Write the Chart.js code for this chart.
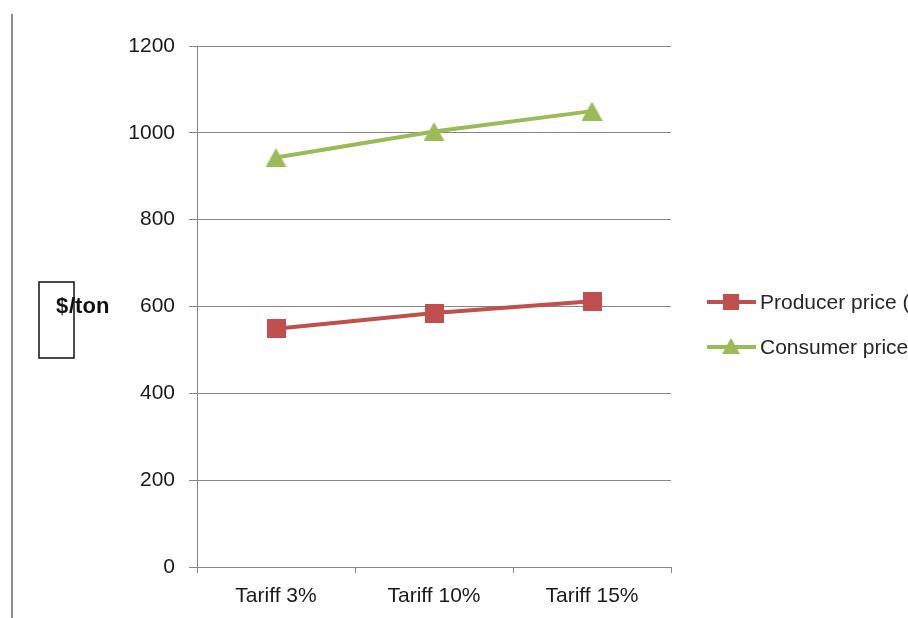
<!DOCTYPE html>
<html>
<head>
<meta charset="utf-8">
<script src="https://cdn.jsdelivr.net/npm/chart.js@4/dist/chart.umd.min.js"></script>
<style>
  html, body { margin: 0; padding: 0; background: #fff; overflow: hidden; }
  #wrap { width: 908px; height: 618px; }
</style>
</head>
<body>
<div id="wrap"><canvas id="chart" width="908" height="618"></canvas></div>
<script>
const RED = "#C0504D";
const GREEN = "#9BBB59";
const GRID = "#878787";
const FONT = "'Liberation Sans', Arial, sans-serif";

const categories = ["Tariff 3%", "Tariff 10%", "Tariff 15%"];
const producerPrice = [549, 585, 612];
const consumerPrice = [943, 1003, 1050];
const seriesNames = ["Producer price (farm gate)", "Consumer price (retail)"];
const yTicks = [0, 200, 400, 600, 800, 1000, 1200];

// Excel-like markers, centred on their bounding box
function makeMarker(kind, color, w, h) {
  const c = document.createElement("canvas");
  c.width = w;
  c.height = h;
  const g = c.getContext("2d");
  g.fillStyle = color;
  if (kind === "square") {
    g.fillRect(0, 0, w, h);
  } else {
    g.beginPath();
    g.moveTo(w / 2, 0);
    g.lineTo(w, h);
    g.lineTo(0, h);
    g.closePath();
    g.fill();
  }
  return c;
}
const squareMarker = makeMarker("square", RED, 19, 19);
const triangleMarker = makeMarker("triangle", GREEN, 21, 19);

// Axis title box, legend and page border drawn on top of the chart
const decorPlugin = {
  id: "decorPlugin",
  afterDraw: (chart) => {
    const { ctx, chartArea } = chart;
    const midY = (chartArea.top + chartArea.bottom) / 2;
    ctx.save();

    // grey frame line on the far left
    ctx.strokeStyle = "#8c8c8c";
    ctx.lineWidth = 2;
    ctx.beginPath();
    ctx.moveTo(12, 14);
    ctx.lineTo(12, 618);
    ctx.stroke();

    // "$/ton" axis title with its odd little box
    ctx.strokeStyle = "#111";
    ctx.lineWidth = 1.5;
    ctx.strokeRect(39, 282, 35, 76);
    ctx.font = "bold 22px " + FONT;
    ctx.fillStyle = "#111";
    ctx.textAlign = "left";
    ctx.textBaseline = "middle";
    ctx.fillText("$", 56, midY);
    ctx.fillText("/ton", 69, midY);

    // legend: line with marker in the middle
    chart.data.datasets.forEach((ds, i) => {
      const y = 302 + i * 45;
      ctx.strokeStyle = ds.borderColor;
      ctx.lineWidth = 4;
      ctx.beginPath();
      ctx.moveTo(707, y);
      ctx.lineTo(756, y);
      ctx.stroke();
      ctx.fillStyle = ds.borderColor;
      if (i === 0) {
        ctx.fillRect(723, y - 8, 16, 16);
      } else {
        ctx.beginPath();
        ctx.moveTo(731, y - 9);
        ctx.lineTo(740, y + 7);
        ctx.lineTo(722, y + 7);
        ctx.closePath();
        ctx.fill();
      }
      ctx.font = "21px " + FONT;
      ctx.fillStyle = "#262626";
      ctx.textBaseline = "middle";
      ctx.fillText(ds.label, 760, y + 1);
    });
    ctx.restore();
  },
};

new Chart(document.getElementById("chart"), {
  type: "line",
  data: {
    labels: categories,
    datasets: [
      {
        label: seriesNames[0],
        data: producerPrice,
        borderColor: RED,
        backgroundColor: RED,
        borderWidth: 4,
        pointStyle: squareMarker,
        tension: 0,
      },
      {
        label: seriesNames[1],
        data: consumerPrice,
        borderColor: GREEN,
        backgroundColor: GREEN,
        borderWidth: 4,
        pointStyle: triangleMarker,
        tension: 0,
      },
    ],
  },
  options: {
    responsive: false,
    animation: false,
    layout: { padding: { top: 46, right: 237, bottom: 0, left: 0 } },
    plugins: {
      legend: { display: false },
      tooltip: { enabled: false },
    },
    scales: {
      x: {
        offset: true,
        afterFit: (scale) => { scale.height = 51; },
        grid: {
          offset: true,
          drawOnChartArea: false,
          drawTicks: true,
          tickLength: 6,
          color: GRID,
        },
        border: { display: true, color: GRID, width: 1 },
        ticks: {
          padding: 11,
          color: "#1a1a1a",
          font: { family: FONT, size: 21 },
        },
      },
      y: {
        min: 0,
        max: 1200,
        afterFit: (scale) => { scale.width = 197; },
        afterBuildTicks: (scale) => {
          scale.ticks = yTicks.map((v) => ({ value: v }));
        },
        grid: {
          color: GRID,
          drawTicks: true,
          tickLength: 8,
        },
        border: { display: true, color: GRID, width: 1 },
        ticks: {
          padding: 14,
          color: "#1a1a1a",
          font: { family: FONT, size: 21 },
          callback: (value) => String(value),
        },
      },
    },
  },
  plugins: [decorPlugin],
});
</script>
</body>
</html>
